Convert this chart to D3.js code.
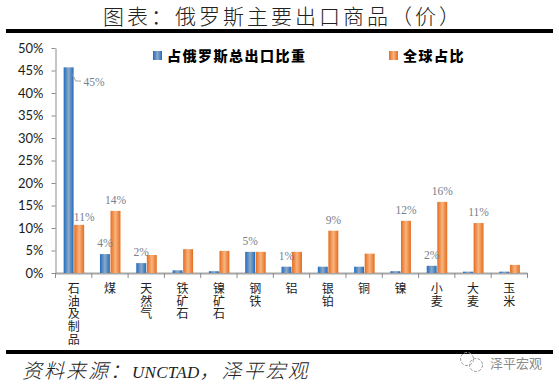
<!DOCTYPE html>
<html>
<head>
<meta charset="utf-8">
<script src="https://cdnjs.cloudflare.com/ajax/libs/d3/7.8.5/d3.min.js"></script>
<style>
  html, body { margin: 0; padding: 0; background: #fff; }
  svg { display: block; font-family: "Noto Sans CJK SC", sans-serif; }
  .axis path, .axis line { stroke: #8c8c8c; }
  .value-label { font-family: "Liberation Serif", serif; font-size: 11.5px; fill: #77808c; text-anchor: middle; }
</style>
</head>
<body>
<div id="chart"></div>
<script>
const categories = ['石油及制品', '煤', '天然气', '铁矿石', '镍矿石', '钢铁', '铝', '银铂', '铜', '镍', '小麦', '大麦', '玉米'];
const russiaShare = [45.7, 4.2, 2.2, 0.6, 0.4, 4.7, 1.4, 1.4, 1.4, 0.4, 1.6, 0.3, 0.3];
const globalShare = [10.7, 13.8, 4.0, 5.3, 4.9, 4.7, 4.7, 9.4, 4.3, 11.6, 15.8, 11.1, 1.8];
// data labels only exist on some bars in the original
const russiaLabels = ['45%', '4%', '2%', null, null, '5%', '1%', null, null, null, '2%', null, null];
const globalLabels = ['11%', '14%', null, null, null, null, null, '9%', null, '12%', '16%', '11%', null];
const yTicks = [0, 5, 10, 15, 20, 25, 30, 35, 40, 45, 50];
const seriesNames = ['占俄罗斯总出口比重', '全球占比'];

const width = 559;
const height = 388;

const svg = d3.select('#chart').append('svg')
    .attr('width', width)
    .attr('height', height);

const defs = svg.append('defs');
const addGradient = (id, edge, mid) => {
    const g = defs.append('linearGradient').attr('id', id);
    g.append('stop').attr('offset', '0%').attr('stop-color', edge);
    g.append('stop').attr('offset', '50%').attr('stop-color', mid);
    g.append('stop').attr('offset', '100%').attr('stop-color', edge);
};
addGradient('blueBar', '#1c6cc0', '#8fa9c6');
addGradient('orangeBar', '#e46c1e', '#f9b47e');

// title and rules (full-width punctuation written as escapes)
svg.append('text')
    .attr('x', 103)
    .attr('y', 24)
    .attr('font-size', 21)
    .attr('letter-spacing', 3)
    .attr('font-weight', 300)
    .attr('fill', '#222')
    .text('图表\uFF1A俄罗斯主要出口商品\uFF08价\uFF09');

svg.append('rect').attr('x', 6).attr('y', 29).attr('width', 547).attr('height', 4).attr('fill', '#000');
svg.append('rect').attr('x', 6).attr('y', 350).attr('width', 547).attr('height', 4).attr('fill', '#000');

// scales
const x = d3.scaleBand().domain(categories).range([55.5, 527.5]);
const xInner = d3.scaleBand().domain([0, 1]).range([-10, 10.5]).paddingInner(0.06);
const y = d3.scaleLinear().domain([0, 50]).range([273, 48]);

// axes
const yAxis = d3.axisLeft(y)
    .tickValues(yTicks)
    .tickFormat(d => d + '%')
    .tickSize(4)
    .tickSizeOuter(0);

svg.append('g')
    .attr('class', 'axis')
    .attr('transform', 'translate(55.5,0)')
    .call(yAxis)
    .call(g => g.selectAll('text')
        .attr('x', -12)
        .attr('fill', '#1a1a1a')
        .style('font-family', 'Lato, sans-serif')
        .style('font-size', '13px'));

// x axis goes under the bars so the tiny ones still show
const xEdges = categories.map(c => x(c)).concat(x.range()[1]);
svg.append('line')
    .attr('x1', 55.5).attr('x2', 527.5)
    .attr('y1', y(0) + 0.5).attr('y2', y(0) + 0.5)
    .attr('stroke', '#a6a6a6')
    .attr('stroke-width', 2);
svg.append('g').selectAll('line')
    .data(xEdges)
    .enter()
    .append('line')
    .attr('x1', d => d).attr('x2', d => d)
    .attr('y1', y(0)).attr('y2', y(0) + 5)
    .attr('stroke', '#8c8c8c');

// bars
const drawBars = (values, idx, fill) => {
    svg.append('g').selectAll('rect')
        .data(values)
        .enter()
        .append('rect')
        .attr('x', (d, i) => x(categories[i]) + x.bandwidth() / 2 + xInner(idx))
        .attr('y', d => y(d))
        .attr('width', xInner.bandwidth())
        .attr('height', d => y(0) - y(d))
        .attr('fill', fill);
};
drawBars(russiaShare, 0, 'url(#blueBar)');
drawBars(globalShare, 1, 'url(#orangeBar)');

// vertical category labels, one character per line
const catLabels = svg.append('g').selectAll('text')
    .data(categories)
    .enter()
    .append('text')
    .attr('font-size', 12)
    .attr('fill', '#222')
    .attr('text-anchor', 'middle');
catLabels.selectAll('tspan')
    .data(d => Array.from(d).map(ch => ({ ch, cat: d })))
    .enter()
    .append('tspan')
    .attr('x', d => x(d.cat) + x.bandwidth() / 2)
    .attr('y', (d, i) => 293 + i * 12.7)
    .text(d => d.ch);

// data labels
const drawLabels = (labels, values, idx) => {
    svg.append('g').selectAll('text')
        .data(labels.map((l, i) => ({ l, v: values[i], cat: categories[i], i })).filter(d => d.l))
        .enter()
        .append('text')
        .attr('class', 'value-label')
        .attr('x', d => x(d.cat) + x.bandwidth() / 2 + xInner(idx) + xInner.bandwidth() / 2)
        .attr('y', d => y(d.v) - 7)
        .text(d => d.l);
};
// the 45% label is pulled out beside the bar with a leader line
drawLabels(russiaLabels.map((l, i) => i === 0 ? null : l), russiaShare, 0);
drawLabels(globalLabels.map((l, i) => i === 0 ? null : l), globalShare, 1);

const oilX = x(categories[0]) + x.bandwidth() / 2;
svg.append('text')
    .attr('class', 'value-label')
    .attr('x', oilX + xInner(1) + xInner.bandwidth() / 2 + 5)
    .attr('y', y(globalShare[0]) - 4)
    .text(globalLabels[0]);
svg.append('text')
    .attr('class', 'value-label')
    .attr('x', 94)
    .attr('y', 86)
    .text(russiaLabels[0]);
svg.append('path')
    .attr('d', d3.line()([[oilX - 1, y(russiaShare[0]) + 7], [oilX + 2, 81], [81, 81]]))
    .attr('fill', 'none')
    .attr('stroke', '#a6a6a6');

// legend
const legendX = [153, 389];
const legendFill = ['url(#blueBar)', 'url(#orangeBar)'];
seriesNames.forEach((name, i) => {
    svg.append('rect')
        .attr('x', legendX[i]).attr('y', 51)
        .attr('width', 9).attr('height', 9)
        .attr('fill', legendFill[i]);
    svg.append('text')
        .attr('x', legendX[i] + 14)
        .attr('y', 61)
        .attr('font-size', 14)
        .attr('font-weight', 900)
        .attr('letter-spacing', 1.5)
        .attr('fill', '#000')
        .text(name);
});

// source line
const source = svg.append('text')
    .attr('x', 22)
    .attr('y', 378)
    .attr('font-size', 20)
    .attr('font-style', 'italic')
    .attr('font-weight', 300)
    .attr('letter-spacing', 2)
    .attr('fill', '#222')
    .style('font-family', '"Noto Sans CJK SC", sans-serif');
source.append('tspan').text('资料来源\uFF1A');
source.append('tspan')
    .attr('font-size', 17)
    .attr('letter-spacing', 0.3)
    .style('font-family', '"Liberation Serif", serif')
    .text('UNCTAD');
source.append('tspan').text('\uFF0C泽平宏观');

// watermark
const mark = svg.append('g').attr('fill', 'none').attr('stroke', '#9a9a9a');
mark.append('circle').attr('cx', 467).attr('cy', 359).attr('r', 6.5).attr('stroke-dasharray', '3 1.5');
mark.append('circle').attr('cx', 476).attr('cy', 365).attr('r', 6.5).attr('stroke-dasharray', '3 1.5');
svg.append('text')
    .attr('x', 490)
    .attr('y', 368)
    .attr('font-size', 13)
    .attr('fill', '#8a8a8a')
    .text('泽平宏观');
</script>
</body>
</html>
